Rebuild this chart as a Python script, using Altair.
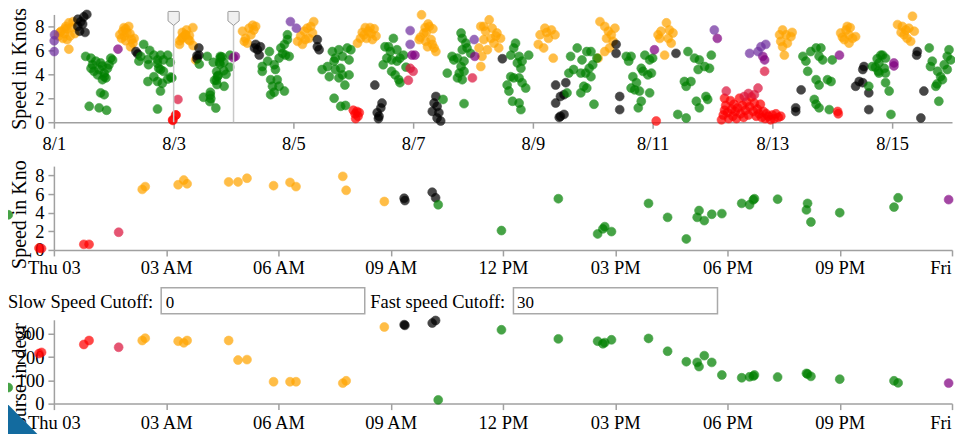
import altair as alt
import pandas as pd

SERIF = "Liberation Serif"

# ---------------- overview data: (days after 2017-08-01 00:00, speed in knots) ----------------
orange_pts = [
    (0.08, 7.2), (0.10, 7.5), (0.12, 7.6), (0.15, 7.0), (0.18, 7.4), (0.18, 7.8), (0.20, 8.0),
    (0.22, 7.8), (0.22, 6.9), (0.25, 8.3), (0.25, 6.1), (0.27, 7.2), (0.30, 7.9), (0.32, 8.4), (0.35, 7.4),
    (1.10, 7.3), (1.13, 7.0), (1.15, 7.6), (1.17, 7.9), (1.18, 7.2), (1.20, 7.8), (1.20, 6.8), (1.22, 7.5),
    (1.25, 8.0), (1.27, 7.4), (1.28, 6.3), (1.30, 6.9), (1.32, 6.6), (1.34, 7.0),
    (3.15, 7.6), (3.18, 6.75), (3.20, 7.0), (3.23, 6.6), (3.26, 7.85), (3.29, 7.3), (3.32, 8.1), (3.34, 7.7), (3.37, 8.0),
    (4.07, 6.75), (4.12, 7.2), (4.15, 6.5), (4.18, 7.6), (4.20, 6.9), (4.23, 7.85), (4.26, 7.0), (4.29, 8.0),
    (4.32, 7.45), (4.34, 8.4),
    (5.07, 6.6), (5.12, 7.0), (5.15, 7.5), (5.18, 7.3), (5.20, 7.9), (5.22, 7.0), (5.25, 7.6), (5.28, 7.9),
    (5.30, 7.4), (5.32, 6.9), (5.35, 7.8), (5.38, 7.2),
    (6.10, 6.9), (6.12, 7.1), (6.14, 8.97), (6.18, 7.45), (6.21, 6.75), (6.24, 6.3), (6.27, 8.0), (6.30, 6.9),
    (6.32, 6.5), (6.35, 6.2), (6.38, 5.9), (6.20, 7.9), (6.25, 8.2), (6.22, 7.5), (6.33, 7.8),
    (7.10, 6.2), (7.13, 8.0), (7.13, 4.65), (7.15, 5.5), (7.18, 6.9), (7.18, 8.0), (7.21, 7.6), (7.24, 6.05),
    (7.27, 8.55), (7.30, 7.0), (7.32, 7.85), (7.35, 6.6), (7.40, 7.45), (7.43, 6.2), (7.46, 7.0), (7.38, 7.2),
    (8.09, 6.5), (8.12, 7.3), (8.18, 6.2), (8.20, 7.85), (8.23, 7.5), (8.26, 7.0), (8.31, 7.7), (8.34, 5.35), (8.37, 7.3),
    (9.09, 5.35), (9.12, 8.4), (9.20, 8.0), (9.20, 5.9), (9.23, 7.0), (9.26, 7.6), (9.28, 6.2), (9.31, 7.3),
    (9.34, 6.75), (9.37, 7.85),
    (10.09, 7.3), (10.12, 7.0), (10.14, 7.6), (10.20, 5.6), (10.23, 8.3), (10.26, 7.0), (10.28, 7.7),
    (10.31, 6.6), (10.34, 7.45),
    (12.12, 7.3), (12.14, 6.75), (12.17, 7.7), (12.17, 6.3), (12.20, 5.6), (12.23, 7.3), (12.25, 6.6),
    (12.31, 7.15), (12.33, 7.5),
    (13.14, 7.45), (13.17, 7.1), (13.20, 6.9), (13.23, 7.7), (13.25, 8.0), (13.28, 7.3), (13.28, 6.6),
    (13.30, 7.9), (13.34, 7.0), (13.39, 7.15),
    (14.09, 8.15), (14.15, 7.5), (14.17, 8.0), (14.20, 7.3), (14.23, 7.7), (14.25, 7.0), (14.28, 7.85),
    (14.31, 6.75), (14.34, 8.85), (14.37, 7.6),
]
black_pts = [
    (0.40, 8.0), (0.40, 8.6), (0.43, 7.6), (0.45, 8.4), (0.48, 8.2), (0.50, 8.8), (0.52, 7.5), (0.55, 9.0),
    (1.37, 5.9), (1.40, 5.7),
    (3.35, 6.2), (3.37, 6.5), (3.40, 6.05), (3.43, 5.6), (3.45, 6.3),
    (4.40, 6.9), (4.40, 6.3), (4.43, 6.05),
    (5.36, 3.1), (5.40, 0.8), (5.42, 0.3), (5.43, 0.5), (5.46, 1.2), (5.48, 1.6),
    (6.32, 0.9), (6.35, 1.6), (6.38, 2.15), (6.40, 1.33), (6.40, 0.35), (6.43, 0.8), (6.46, 0.1),
    (7.49, 5.3),
    (8.38, 3.1), (8.38, 1.6), (8.44, 0.4), (8.46, 2.15), (8.46, 0.5), (8.52, 2.3), (8.52, 0.65), (8.55, 3.3),
    (9.39, 6.5), (9.39, 5.75), (9.45, 2.15), (9.45, 1.05),
    (10.39, 5.75),
    (12.39, 1.2), (12.39, 0.9), (12.48, 2.7),
    (13.39, 3.0), (13.45, 3.4), (13.51, 4.4), (13.51, 3.3), (13.53, 4.65), (13.61, 2.45), (13.61, 1.05),
    (14.41, 5.6), (14.42, 5.9), (14.48, 0.35), (14.53, 2.6),
]
green_pts = [
    (0.53, 5.5), (0.62, 5.35), (0.645, 4.8), (0.70, 5.1), (0.62, 4.5), (0.67, 4.25), (0.755, 4.4), (0.81, 4.7),
    (0.84, 4.1), (0.87, 3.7), (0.81, 3.55), (0.895, 4.5), (0.92, 4.8), (0.95, 5.35), (0.98, 5.2), (0.78, 4.95),
    (0.73, 3.95), (0.84, 3.8), (0.59, 1.33), (0.78, 2.45), (0.84, 2.3), (0.755, 1.2), (0.88, 1.0),
    (1.50, 6.5), (1.42, 5.1), (1.45, 5.5), (1.57, 5.25), (1.58, 4.8), (1.67, 5.6), (1.73, 5.2), (1.75, 4.5),
    (1.73, 4.9), (1.78, 5.6), (1.83, 5.2), (1.90, 5.6), (1.57, 3.4), (1.67, 3.8), (1.73, 3.4),
    (1.78, 4.4), (1.83, 4.25), (1.90, 3.6), (1.81, 3.25), (1.97, 3.7), (1.78, 2.6), (1.73, 1.1), (1.60, 6.0),
    (3.48, 4.65), (3.48, 4.25), (3.57, 5.1), (3.60, 5.9), (3.62, 3.55), (3.62, 2.3), (3.65, 3.0), (3.68, 4.8),
    (3.68, 2.5), (3.70, 4.4), (3.73, 3.55), (3.76, 3.0), (3.76, 5.35), (3.79, 6.2), (3.82, 5.75), (3.85, 6.5),
    (3.85, 2.6), (3.87, 5.6), (3.90, 7.3), (3.90, 6.9), (3.93, 5.5),
    (4.48, 4.4), (4.57, 4.65), (4.60, 3.8), (4.65, 5.9), (4.68, 5.1), (4.68, 2.0), (4.70, 5.35), (4.70, 4.4),
    (4.76, 6.05), (4.76, 3.7), (4.79, 4.5), (4.79, 1.33), (4.82, 5.5), (4.82, 3.95), (4.86, 3.1), (4.87, 1.4),
    (4.90, 6.2), (4.93, 5.2), (4.93, 3.95), (4.96, 6.05),
    (5.50, 4.8), (5.53, 6.3), (5.56, 5.35), (5.59, 6.3), (5.62, 5.9), (5.64, 5.2), (5.64, 4.25), (5.67, 7.0),
    (5.70, 3.95), (5.73, 5.1), (5.73, 6.05), (5.76, 3.55), (5.78, 5.35), (5.78, 3.3), (5.84, 5.6), (5.88, 4.6),
    (6.50, 1.9), (6.57, 4.1), (6.65, 5.5), (6.68, 5.2), (6.74, 5.35), (6.74, 3.7), (6.77, 4.1), (6.80, 7.45),
    (6.80, 4.65), (6.82, 7.0), (6.82, 6.05), (6.82, 3.55), (6.85, 5.1), (6.85, 4.25), (6.85, 1.55), (6.88, 6.6),
    (6.90, 6.2), (6.96, 5.75),
    (7.57, 3.1), (7.60, 2.6), (7.63, 5.6), (7.63, 3.8), (7.66, 1.75), (7.68, 6.2), (7.68, 3.7), (7.71, 6.6),
    (7.74, 4.95), (7.77, 5.5), (7.77, 3.7), (7.77, 1.6), (7.80, 4.5), (7.80, 1.05), (7.82, 5.1), (7.82, 3.3),
    (7.88, 2.85), (7.93, 5.6),
    (8.57, 2.45), (8.60, 4.1), (8.63, 5.5), (8.68, 4.4), (8.74, 6.2), (8.80, 4.1), (8.80, 2.45), (8.82, 5.2),
    (8.85, 3.0), (8.88, 4.1), (8.90, 5.9), (8.90, 2.85), (8.94, 4.5), (8.97, 5.9), (8.97, 3.8), (9.00, 4.8),
    (9.02, 1.5), (9.07, 5.35),
    (9.56, 5.5), (9.64, 5.5), (9.64, 2.85), (9.67, 3.8), (9.70, 2.7), (9.73, 3.3), (9.76, 1.2), (9.78, 2.6),
    (9.81, 4.5), (9.81, 1.75), (9.84, 4.25), (9.87, 5.6), (9.92, 3.95), (9.95, 5.2), (9.95, 2.45), (9.98, 4.1),
    (10.00, 5.35), (9.60, 5.1),
    (10.42, 0.65), (10.53, 3.4), (10.56, 3.0), (10.56, 0.35), (10.59, 5.9), (10.64, 3.4), (10.70, 5.35),
    (10.73, 1.75), (10.76, 4.4), (10.78, 5.2), (10.78, 1.2), (10.87, 4.65), (10.89, 2.15), (10.92, 1.9),
    (10.95, 4.5), (10.98, 5.6),
    (12.51, 5.5), (12.56, 5.1), (12.59, 4.25), (12.64, 5.9), (12.70, 1.9), (12.73, 6.2), (12.73, 3.55),
    (12.73, 1.5), (12.78, 5.5), (12.78, 3.1), (12.78, 1.2), (12.81, 6.2), (12.84, 5.2), (12.92, 3.55),
    (12.95, 1.05), (12.98, 3.4), (13.00, 5.2),
    (13.61, 3.0), (13.67, 4.65), (13.72, 4.6), (13.77, 4.25), (13.78, 4.95), (13.78, 4.1), (13.81, 5.6),
    (13.84, 5.6), (13.87, 4.5), (13.89, 5.35), (13.89, 4.1), (13.89, 3.3), (13.95, 2.6), (13.98, 0.65), (13.75, 5.3),
    (14.62, 6.2), (14.64, 4.65), (14.67, 5.1), (14.73, 3.0), (14.75, 3.2), (14.76, 4.25), (14.78, 1.75),
    (14.81, 3.8), (14.84, 3.55), (14.87, 4.8), (14.92, 5.5), (14.92, 4.4), (14.95, 6.05), (14.98, 5.2),
]
red_pts = [
    (5.00, 1.0), (5.03, 0.7), (5.04, 0.3), (5.06, 0.9), (5.08, 0.5), (5.10, 0.8),
    (10.06, 0.1),
    (11.15, 0.2), (11.18, 0.6), (11.20, 1.0), (11.20, 2.0), (11.22, 1.4), (11.25, 0.8), (11.27, 0.3),
    (11.30, 1.8), (11.32, 1.1), (11.34, 0.5), (11.36, 1.5), (11.38, 0.9), (11.40, 0.3), (11.42, 1.2),
    (11.45, 2.0), (11.47, 0.7), (11.50, 1.4), (11.52, 0.4), (11.55, 1.0), (11.57, 1.7), (11.60, 0.6),
    (11.62, 1.3), (11.65, 2.1), (11.68, 0.9), (11.70, 1.6), (11.73, 0.5), (11.75, 1.1), (11.78, 0.7),
    (11.80, 1.5), (11.82, 0.4), (11.85, 0.9), (11.88, 0.3), (11.90, 0.7), (11.93, 0.5), (11.97, 0.2),
    (12.00, 0.6), (12.03, 0.3), (12.06, 0.7), (12.10, 0.4), (12.14, 0.5),
    (13.09, 0.9), (13.10, 0.7),
]
crimson_pts = [
    (5.92, 3.5), (5.95, 4.5), (6.00, 4.25), (6.99, 3.7),
    (11.23, 2.6), (11.53, 2.15), (11.60, 2.4), (11.70, 2.3), (11.76, 2.85), (11.87, 4.25),
]
purple_pts = [
    (1.07, 6.1), (3.03, 5.5), (5.98, 5.6), (6.03, 5.6), (7.03, 5.5), (10.03, 6.05), (11.08, 7.0),
    (11.84, 5.5), (11.87, 5.2), (13.12, 5.6), (14.03, 4.95), (14.03, 4.7),
]
violet_pts = [
    (0.01, 7.3), (0.005, 6.8), (0.005, 5.9), (3.95, 8.4), (4.05, 7.85), (5.95, 7.65), (5.95, 6.5),
    (7.02, 6.9), (11.03, 7.7), (11.62, 5.75), (11.76, 5.9), (11.81, 6.3), (11.89, 6.5),
]

# ---------------- detail data: hours after 2017-08-03 00:00 ----------------
detail_hours = [-1.36, -1.22, -0.40, -0.33, 0.80, 0.94, 1.73, 2.36, 2.44, 3.32, 3.47, 3.56, 4.67, 4.92, 5.16,
                5.87, 6.31, 6.47, 7.72, 7.81, 8.83, 9.36, 9.38, 10.11, 10.20, 10.27, 11.96, 13.48, 14.53,
                14.67, 14.72, 14.90, 15.89, 16.40, 16.90, 17.19, 17.24, 17.38, 17.58, 17.85, 18.38, 18.59,
                18.69, 18.72, 19.34, 20.11, 20.14, 20.23, 21.00, 22.45, 22.56, 23.91]
detail_speed = [5.0, 3.77, 0.2, 0.15, 0.6, 0.6, 1.9, 6.5, 6.8, 7.0, 7.5, 7.1, 7.3, 7.3, 7.7,
                6.9, 7.25, 6.8, 7.9, 6.4, 5.2, 5.55, 5.3, 6.2, 5.6, 4.85, 2.08, 5.5, 1.72,
                2.26, 2.5, 1.97, 5.0, 3.5, 1.18, 3.5, 4.23, 3.15, 3.83, 3.9, 5.0, 4.85,
                5.38, 5.5, 5.45, 4.3, 5.0, 3.0, 4.0, 4.6, 5.6, 5.4]
detail_course = [65, 69, 215, 220, 254, 271, 242, 271, 281, 268, 261, 271, 271, 187, 189,
                 94, 94, 94, 88, 98, 329, 339, 336, 346, 357, 16, 317, 278, 268,
                 257, 262, 274, 280, 225, 180, 177, 159, 206, 177, 123, 111, 115,
                 118, 123, 114, 130, 127, 117, 105, 98, 89, 88]
detail_color = (["green"] * 2 + ["red"] * 4 + ["crimson"] + ["orange"] * 14 + ["black"] * 4
                + ["green"] * 26 + ["purple"])

color_names = ["orange", "green", "black", "red", "crimson", "purple", "violet"]
color_values = ["#ffa500", "#008000", "#000000", "#ff0000", "#dc143c", "#800080", "#7030a0"]

top_tick_days = [1, 3, 5, 7, 9, 11, 13, 15]
mid_tick_hours = [0, 3, 6, 9, 12, 15, 18, 21, 24]
brush_days = [3, 4]

# ---------------- build tables ----------------
t0 = pd.Timestamp("2017-08-01")
t3 = pd.Timestamp("2017-08-03")
rows = []
for cat, pts in [("orange", orange_pts), ("black", black_pts), ("green", green_pts), ("red", red_pts),
                 ("crimson", crimson_pts), ("purple", purple_pts), ("violet", violet_pts)]:
    for d, v in pts:
        rows.append({"time": (t0 + pd.Timedelta(days=d)).round("s"), "speed": v, "c": cat})
over = pd.DataFrame(rows)
det = pd.DataFrame({
    "time": [(t3 + pd.Timedelta(hours=h)).round("s") for h in detail_hours],
    "speed": detail_speed, "course": detail_course, "c": detail_color,
})
allpts = pd.concat([over, det[["time", "speed", "c"]]], ignore_index=True)
brush = pd.DataFrame({"time": [pd.Timestamp(2017, 8, d) for d in brush_days]})
one = pd.DataFrame({"k": [0]})

cscale = alt.Scale(domain=color_names, range=color_values)

W = 900
H_TOP, H_MID, H_BOT = 108, 84, 84

xs_top = alt.Scale(domain=[alt.DateTime(year=2017, month=8, date=1), alt.DateTime(year=2017, month=8, date=16)], nice=False)
ax_top = alt.Axis(values=[alt.DateTime(year=2017, month=8, date=d) for d in top_tick_days],
                  format="%-m/%-d", formatType="time", labelFlush=False, labelPadding=6, title=None)
xs_mid = alt.Scale(domain=[alt.DateTime(year=2017, month=8, date=3), alt.DateTime(year=2017, month=8, date=4)], nice=False)


def mid_axis(pad):
    return alt.Axis(values=[alt.DateTime(year=2017, month=8, date=3, hours=h) if h < 24
                            else alt.DateTime(year=2017, month=8, date=4) for h in mid_tick_hours],
                    labelExpr="hours(datum.value) == 0 ? timeFormat(datum.value, '%a %d') : timeFormat(datum.value, '%I %p')",
                    labelFlush=False, labelPadding=pad, title=None)


def circles(data):
    return alt.Chart(data).mark_circle(size=80, opacity=0.72, strokeWidth=1, strokeOpacity=0.6)


color_enc = alt.Color("c:N", scale=cscale, legend=None)
stroke_enc = alt.Stroke("c:N", scale=cscale, legend=None)

# ---------------- top overview ----------------
top_pts = circles(allpts).encode(
    x=alt.X("time:T", scale=xs_top, axis=ax_top, title=None),
    y=alt.Y("speed:Q", scale=alt.Scale(domain=[0, 9], nice=False),
            axis=alt.Axis(values=[0, 2, 4, 6, 8], title="Speed in Knots", titleX=-28, titleY=H_TOP / 2,
                          titleAngle=270, titleAlign="center", titleBaseline="alphabetic")),
    color=color_enc, stroke=stroke_enc,
)
HANDLE = "M-0.75,-1 L0.75,-1 L0.8,-0.9 L0.8,0.35 L0,1 L-0.8,0.35 L-0.8,-0.9 Z"
brush_rules = alt.Chart(brush).mark_rule(color="#c8c8c8", strokeWidth=1.5).encode(
    x=alt.X("time:T", scale=xs_top, axis=ax_top, title=None), y=alt.value(-3), y2=alt.value(H_TOP))
brush_handles = alt.Chart(brush).mark_point(shape=HANDLE, filled=True, fill="#f0f0f0", stroke="#9a9a9a",
                                            strokeWidth=1, size=196, opacity=1).encode(
    x=alt.X("time:T", scale=xs_top, axis=ax_top, title=None), y=alt.value(4))
anchor_tl = alt.Chart(one).mark_point(opacity=0, size=1).encode(x=alt.value(-60), y=alt.value(-10))
top = alt.layer(top_pts, brush_rules, brush_handles, anchor_tl).properties(width=W, height=H_TOP)

# ---------------- middle detail (speed) ----------------
mid_pts = circles(det).encode(
    x=alt.X("time:T", scale=xs_mid, axis=mid_axis(3), title=None),
    y=alt.Y("speed:Q", scale=alt.Scale(domain=[0, 9], nice=False),
            axis=alt.Axis(values=[0, 2, 4, 6, 8], title=None)),
    color=color_enc, stroke=stroke_enc,
)
mid_title = alt.Chart(one).mark_text(angle=270, align="left", baseline="alphabetic", font=SERIF,
                                     fontSize=20, limit=112, ellipsis="\u200b", color="black").encode(
    x=alt.value(-28), y=alt.value(103), text=alt.value("Speed in Knots"))
mid = alt.layer(mid_pts, mid_title).properties(width=W, height=H_MID)

# ---------------- bottom detail (course) ----------------
bot_pts = circles(det).encode(
    x=alt.X("time:T", scale=xs_mid, axis=mid_axis(4), title=None),
    y=alt.Y("course:Q", scale=alt.Scale(domain=[0, 360], nice=False),
            axis=alt.Axis(values=[0, 100, 200, 300], title=None)),
    color=color_enc, stroke=stroke_enc,
)
bot_title = alt.Chart(one).mark_text(angle=270, align="left", baseline="alphabetic", font=SERIF,
                                     fontSize=20, limit=120, ellipsis="\u200b", color="black").encode(
    x=alt.value(-28), y=alt.value(121), text=alt.value("Course in degrees"))
corner = alt.Chart(one).mark_point(shape="M-1,-1 L1,1 L-1,1 Z", filled=True, fill="#136b9f", strokeWidth=0,
                                   size=1849, opacity=1).encode(x=alt.value(-31.5), y=alt.value(99.5))


def label(txt, x, size=18.5):
    return alt.Chart(one).mark_text(align="left", baseline="alphabetic", font=SERIF, fontSize=size,
                                    color="black").encode(x=alt.value(x), y=alt.value(-12), text=alt.value(txt))


def box(x1, x2):
    return alt.Chart(one).mark_rect(fill="white", stroke="#a9a9a9", strokeWidth=1.5).encode(
        x=alt.value(x1), x2=alt.value(x2), y=alt.value(-32), y2=alt.value(-6))


anchor_br = alt.Chart(one).mark_point(opacity=0, size=1).encode(x=alt.value(930), y=alt.value(125))
bot = alt.layer(
    bot_pts, bot_title, corner,
    label("Slow Speed Cutoff:", -46), box(107.5, 311.5), label("0", 112, 17),
    label("Fast speed Cutoff:", 317), box(460.5, 665), label("30", 464, 17),
    anchor_br,
).properties(width=W, height=H_BOT)

chart = alt.vconcat(
    top,
    alt.vconcat(mid, bot, spacing=70, bounds="flush"),
    spacing=44, bounds="flush",
).properties(
    padding={"left": -15, "top": -5, "right": -28, "bottom": -12},
    autosize=alt.AutoSizeParams(type="pad"),
).configure_view(stroke=None).configure_axis(
    labelFont=SERIF, labelFontSize=18.5, labelColor="black",
    titleFont=SERIF, titleFontSize=20, titleFontWeight="normal", titleColor="black",
    domainColor="#a0a0a0", tickColor="#a0a0a0", domainWidth=1.5, tickWidth=1.5, tickSize=6,
    labelPadding=4, grid=False,
)

chart.save("out.html", embed_options={"renderer": "svg", "actions": False})
